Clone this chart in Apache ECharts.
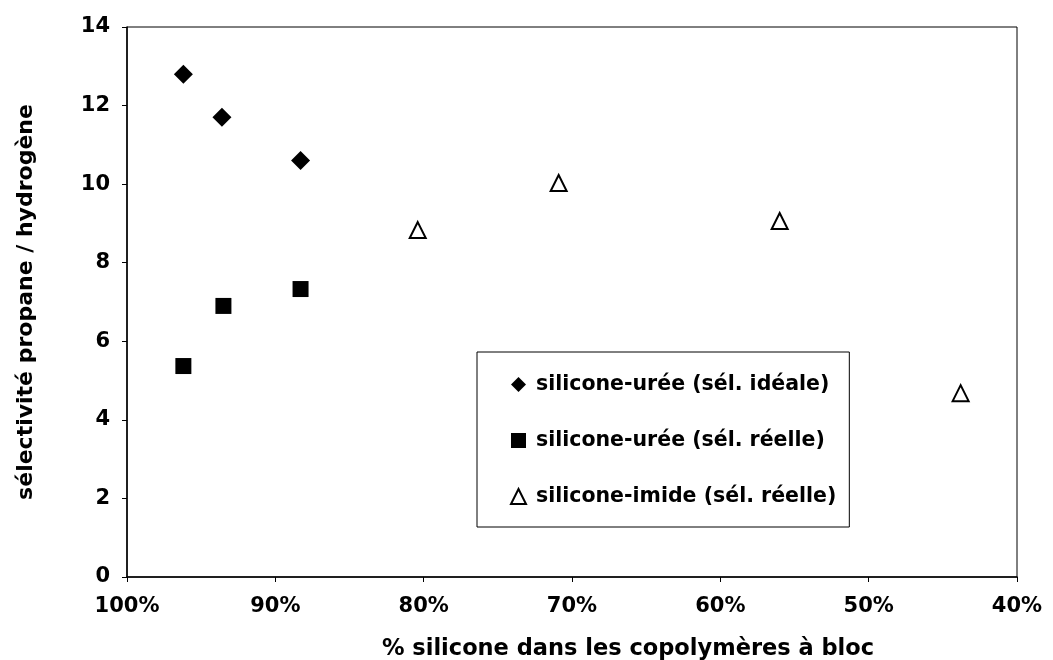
<!DOCTYPE html>
<html><head><meta charset="utf-8">
<script src="https://cdn.jsdelivr.net/npm/echarts@6/dist/echarts.min.js"></script>
<style>html,body{margin:0;padding:0;background:#fff}#c{width:1053px;height:660px}</style>
</head><body><div id="c"></div>
<script>
const seriesNames = ['silicone-urée (sél. idéale)', 'silicone-urée (sél. réelle)', 'silicone-imide (sél. réelle)'];
const ureeIdealeX = [96.2, 93.6, 88.3];
const ureeIdealeY = [12.8, 11.7, 10.6];
const ureeReelleX = [96.2, 93.5, 88.3];
const ureeReelleY = [5.37, 6.9, 7.33];
const imideX = [80.4, 70.9, 56.0, 43.8];
const imideY = [8.83, 10.03, 9.06, 4.68];
const xTitle = '% silicone dans les copolymères à bloc';
const yTitle = 'sélectivité propane / hydrogène';

const pairs = (xs, ys) => xs.map((x, i) => [x, ys[i]]);
const font = 'DejaVu Sans, Arial, sans-serif';
const chart = echarts.init(document.getElementById('c'));
chart.setOption({
  animation: false,
  backgroundColor: '#fff',
  grid: { left: 127, right: 36, top: 27, bottom: 83, show: true, borderColor: '#000', borderWidth: 1,
          containLabel: false, outerBoundsMode: 'none' },
  xAxis: {
    type: 'value', inverse: true, min: 40, max: 100, interval: 10,
    name: xTitle, nameLocation: 'middle', nameGap: 61,
    nameTextStyle: { fontFamily: font, fontWeight: 'bold', fontSize: 22.5, color: '#000', padding: [0, 0, 0, 112] },
    axisLine: { lineStyle: { color: '#000', width: 1.5 } },
    axisTick: { show: true, length: 5, lineStyle: { color: '#000' } },
    axisLabel: { formatter: '{value}%', margin: 19, fontFamily: font, fontWeight: 'bold', fontSize: 21, color: '#000' },
    splitLine: { show: false }
  },
  yAxis: {
    type: 'value', min: 0, max: 14, interval: 2,
    name: yTitle, nameLocation: 'middle', nameGap: 90, nameRotate: 90,
    nameTextStyle: { fontFamily: font, fontWeight: 'bold', fontSize: 22, color: '#000' },
    axisLine: { show: true, lineStyle: { color: '#000', width: 1.5 } },
    axisTick: { show: true, length: 5, lineStyle: { color: '#000' } },
    axisLabel: { margin: 17, fontFamily: font, fontWeight: 'bold', fontSize: 21, color: '#000' },
    splitLine: { show: false }
  },
  legend: {
    orient: 'vertical', left: 477, top: 352,
    padding: [22, 13, 20, 33], itemGap: 35, itemWidth: 15, itemHeight: 15,
    backgroundColor: '#fff', borderColor: '#000', borderWidth: 1,
    textStyle: { fontFamily: font, fontWeight: 'bold', fontSize: 20.5, color: '#000', padding: [0, 0, 0, 5] },
    data: seriesNames
  },
  series: [
    { name: seriesNames[0], type: 'scatter', symbol: 'diamond', symbolSize: 19,
      itemStyle: { color: '#000', opacity: 1 }, data: pairs(ureeIdealeX, ureeIdealeY) },
    { name: seriesNames[1], type: 'scatter', symbol: 'rect', symbolSize: 16,
      itemStyle: { color: '#000', opacity: 1 }, data: pairs(ureeReelleX, ureeReelleY) },
    { name: seriesNames[2], type: 'scatter', symbol: 'triangle', symbolSize: 16,
      itemStyle: { color: '#fff', borderColor: '#000', borderWidth: 2, opacity: 1 }, data: pairs(imideX, imideY) }
  ]
});
</script></body></html>
